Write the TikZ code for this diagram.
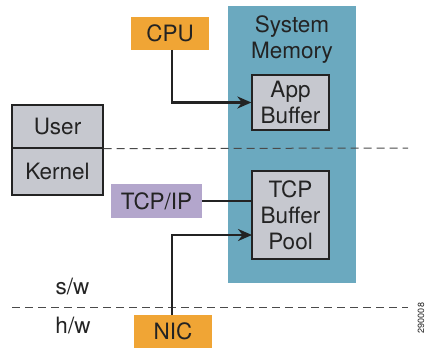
\documentclass[tikz,border=0pt]{standalone}
\usepackage{fontspec}
\setmainfont{TeX Gyre Heros}
\usetikzlibrary{arrows.meta,calc}
\definecolor{memblue}{HTML}{6BA9BF}
\definecolor{cpuorange}{HTML}{F0A535}
\definecolor{tcppurple}{HTML}{B3A6CC}
\definecolor{bufgray}{HTML}{C6C8CF}
\definecolor{edgedark}{HTML}{232323}
\definecolor{dashgray}{HTML}{4A4A4A}
\tikzset{
  lbl/.style={font=\fontsize{22.5}{26}\selectfont, text=edgedark, inner sep=0pt, align=center},
  chip/.style={lbl, draw=none, minimum width=78pt, minimum height=33pt},
  bufbox/.style={lbl, fill=bufgray, draw=edgedark, line width=1.3pt, minimum width=77pt},
  ukbox/.style={lbl, fill=bufgray, draw=edgedark, line width=1.3pt, minimum width=91pt},
  link/.style={draw=edgedark, line width=2.3pt},
  arr/.style={link, -{Stealth[length=14pt, width=12pt]}},
  divider/.style={draw=dashgray, line width=1pt, dash pattern=on 8pt off 5pt},
}
\begin{document}
\begin{tikzpicture}[x=1pt, y=-1pt]
\useasboundingbox (0,0) rectangle (427,350);
% system memory
\node[fill=memblue, minimum width=128pt, minimum height=277pt, inner sep=0pt] (mem) at (292,144.5) {};
\node[lbl] (memlbl) at (292,40) {System\\Memory};
\node[bufbox, minimum height=55pt] (app) at (290.5,102.5) {App\\Buffer};
\node[bufbox, minimum height=88pt] (pool) at (290.5,215) {TCP\\Buffer\\Pool};
% user / kernel
\node[ukbox, minimum height=43pt] (user) at (57.5,126.5) {User};
\node[ukbox, minimum height=47pt] (kernel) at (57.5,171.5) {Kernel};
% chips
\node[chip, fill=cpuorange] (cpu) at (170,33.5) {CPU};
\node[chip, fill=tcppurple, minimum width=91pt, minimum height=34pt] (tcpip) at (156.5,201) {TCP/IP};
\node[chip, fill=cpuorange] (nic) at (173,331.5) {NIC};
% dividers
\coordinate (d1e) at (408,148);
\coordinate (d2s) at (12,307);
\coordinate (d2e) at (408,307);
\draw[divider] (user.south east) -- (d1e);
\draw[divider] (d2s) -- (d2e);
% labels
\node[lbl] (sw) at (72.5,287) {s/w};
\node[lbl] (hw) at (73,326) {h/w};
% connectors
\coordinate (cpuout) at (172,50);
\coordinate (nicout) at (172,315);
\coordinate (poolin) at (252,235);
\draw[arr] (cpuout) |- (app.west);
\draw[link] (tcpip.east) -- (tcpip.east -| pool.west);
\draw[arr] (nicout) |- (poolin);
% figure number
\node[font=\fontsize{9}{11}\selectfont, text=edgedark, rotate=90, inner sep=0pt] (fig) at (421,318) {290008};
\end{tikzpicture}
\end{document}
